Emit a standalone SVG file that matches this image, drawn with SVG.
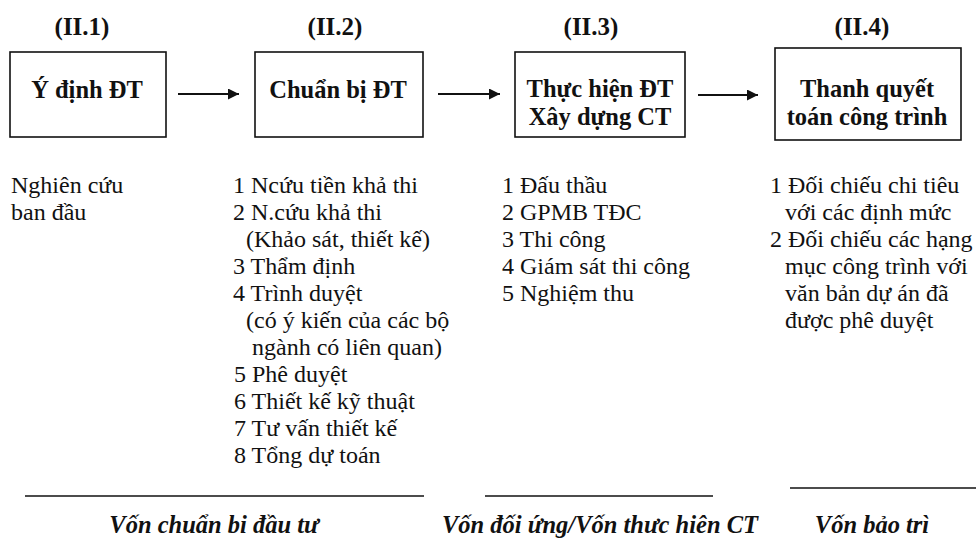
<svg xmlns="http://www.w3.org/2000/svg" width="977" height="539" viewBox="0 0 977 539" font-family="'Liberation Serif', 'DejaVu Serif', serif">
<defs>
<marker id="ah" viewBox="0 0 10 10" refX="10" refY="5" markerWidth="14" markerHeight="11" markerUnits="userSpaceOnUse" orient="auto">
<path d="M0,0 L10,5 L0,10 Z" fill="#111"/>
</marker>
</defs>
<style>
text{font-family:'Liberation Serif','DejaVu Serif',serif;fill:#111}
.lbl{font-size:25px;font-weight:bold;text-anchor:middle}
.box{fill:#fff;stroke:#111;stroke-width:1.6}
.bt{font-size:24.5px;font-weight:bold;text-anchor:middle}
.it{font-size:24px}
.fund{font-size:24.5px;font-weight:bold;font-style:italic;text-anchor:middle}
.conn{stroke:#111;stroke-width:1.8;fill:none}
.rule{stroke:#111;stroke-width:1.6}
</style>
<rect width="977" height="539" fill="#fff"/>

<g id="stage1">
<text class="lbl" x="82" y="35">(II.1)</text>
<rect class="box" x="10" y="52" width="156" height="85"/>
<text class="bt" x="87" y="98">Ý định ĐT</text>
</g>

<g id="stage2">
<text class="lbl" x="335" y="35">(II.2)</text>
<rect class="box" x="255" y="52" width="168" height="85"/>
<text class="bt" x="338" y="98">Chuẩn bị ĐT</text>
</g>

<g id="stage3">
<text class="lbl" x="591" y="35">(II.3)</text>
<rect class="box" x="515" y="52" width="170" height="85"/>
<text class="bt" x="600" y="97">Thực hiện ĐT</text>
<text class="bt" x="600" y="125">Xây dựng CT</text>
</g>

<g id="stage4">
<text class="lbl" x="862" y="35">(II.4)</text>
<rect class="box" x="775" y="48" width="186" height="92"/>
<text class="bt" x="867" y="97">Thanh quyết</text>
<text class="bt" x="867" y="125">toán công trình</text>
</g>

<g id="connectors">
<line class="conn" x1="178" y1="94" x2="239" y2="94" marker-end="url(#ah)"/>
<line class="conn" x1="438" y1="94" x2="500" y2="94" marker-end="url(#ah)"/>
<line class="conn" x1="698" y1="95" x2="758" y2="95" marker-end="url(#ah)"/>
</g>

<g id="details1">
<text class="it" x="11" y="193">Nghiên cứu</text>
<text class="it" x="11" y="220">ban đầu</text>
</g>

<g id="details2">
<text class="it" x="233" y="193">1 Ncứu tiền khả thi</text>
<text class="it" x="233" y="220">2 N.cứu khả thi</text>
<text class="it" x="246" y="247">(Khảo sát, thiết kế)</text>
<text class="it" x="233" y="274">3 Thẩm định</text>
<text class="it" x="233" y="301">4 Trình duyệt</text>
<text class="it" x="246" y="328">(có ý kiến của các bộ</text>
<text class="it" x="252" y="355">ngành có liên quan)</text>
<text class="it" x="234" y="382">5 Phê duyệt</text>
<text class="it" x="234" y="409">6 Thiết kế kỹ thuật</text>
<text class="it" x="234" y="436">7 Tư vấn thiết kế</text>
<text class="it" x="234" y="463">8 Tổng dự toán</text>
</g>

<g id="details3">
<text class="it" x="502" y="193">1 Đấu thầu</text>
<text class="it" x="502" y="220">2 GPMB TĐC</text>
<text class="it" x="502" y="247">3 Thi công</text>
<text class="it" x="502" y="274">4 Giám sát thi công</text>
<text class="it" x="502" y="301">5 Nghiệm thu</text>
</g>

<g id="details4">
<text class="it" x="770" y="193">1 Đối chiếu chi tiêu</text>
<text class="it" x="785" y="220">với các định mức</text>
<text class="it" x="770" y="247">2 Đối chiếu các hạng</text>
<text class="it" x="785" y="274">mục công trình với</text>
<text class="it" x="785" y="301">văn bản dự án đã</text>
<text class="it" x="785" y="328">được phê duyệt</text>
</g>

<g id="funds">
<line class="rule" x1="25" y1="496" x2="424" y2="496"/>
<line class="rule" x1="485" y1="496" x2="713" y2="496"/>
<line class="rule" x1="790" y1="488" x2="976" y2="488"/>
<text class="fund" x="214" y="533">Vốn chuẩn bi đầu tư</text>
<text class="fund" x="600" y="533">Vốn đối ứng/Vốn thưc hiên CT</text>
<text class="fund" x="872" y="533">Vốn bảo trì</text>
</g>
</svg>
